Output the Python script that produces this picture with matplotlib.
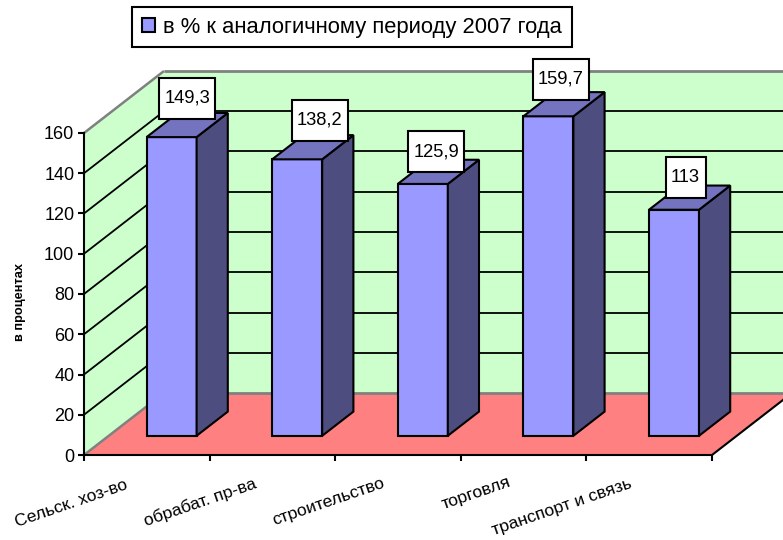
import matplotlib
matplotlib.use("Agg")
import matplotlib.pyplot as plt
from matplotlib.patches import Polygon, Rectangle, Patch

categories = ["Сельск. хоз-во", "обрабат. пр-ва", "строительство", "торговля", "транспорт и связь"]
values = [149.3, 138.2, 125.9, 159.7, 113]
value_labels = ["149,3", "138,2", "125,9", "159,7", "113"]
series_name = "в % к аналогичному периоду 2007 года"
y_ticks = [0, 20, 40, 60, 80, 100, 120, 140, 160]
y_label = "в процентах"

plt.rcParams["font.family"] = ["Liberation Sans", "DejaVu Sans"]
W, H = 783, 540
fig = plt.figure(figsize=(W / 100, H / 100), dpi=100)
L, R, T, B = 84, 712, 133, 455
ax = fig.add_axes([L / W, 1 - B / H, (R - L) / W, (B - T) / H])
ax.set_xlim(0, 5)
ax.set_ylim(0, 160)
ax.patch.set_visible(False)
PX = (R - L) / 5
PY = (B - T) / 160
WALL_DX, WALL_DY = 80 / PX, 62 / PY


def proj(cat, val, depth):
    return cat + depth * WALL_DX, val + depth * WALL_DY


WALL, FLOOR, GRID = "#CCFFCC", "#FF8080", "#808080"
FRONT, TOP, SIDE = "#9999FF", "#7373BF", "#4D4D80"
LW = 1.5


def poly(points, fc, ec="none", z=1, lw=LW):
    ax.add_patch(Polygon(points, closed=True, fc=fc, ec=ec, lw=lw, zorder=z,
                         clip_on=False, joinstyle="miter"))


ymax = y_ticks[-1]
poly([proj(0, 0, 0), proj(0, ymax, 0), proj(0, ymax, 1), proj(0, 0, 1)], WALL)
poly([proj(0, 0, 1), proj(0, ymax, 1), proj(5.2, ymax, 1), proj(5.2, 0, 1)], WALL)
poly([proj(0, 0, 0), proj(5, 0, 0), proj(5, 0, 1), proj(0, 0, 1)], FLOOR)


def line(p, q, color="black", lw=LW, z=2):
    ax.plot([p[0], q[0]], [p[1], q[1]], color=color, lw=lw, zorder=z, clip_on=False,
            solid_capstyle="butt")


for v in y_ticks[1:-1]:
    line(proj(0, v, 0), proj(0, v, 1), lw=1.3)
    line(proj(0, v, 1), proj(5.2, v, 1), lw=1.3)
line(proj(0, ymax, 0), proj(0, ymax, 1), GRID, 1.8)
line(proj(0, ymax, 1), proj(5.2, ymax, 1), GRID, 2.0)
line(proj(0, 0, 0), proj(0, 0, 1), GRID, 1.8)
line(proj(0, 0, 1), proj(5.2, 0, 1), GRID, 2.0)
line(proj(5, 0, 0), proj(5, 0, 1), "black", LW, 3)

# bars
BAR_W = 50 / PX
D0, D1 = 0.31, 0.70
BAR_SCALE = 0.994
for i, v in enumerate(values):
    c0 = i + 0.5 - BAR_W / 2
    c1 = i + 0.5 + BAR_W / 2
    h = v * BAR_SCALE
    poly([proj(c0, 0, D0), proj(c1, 0, D0), proj(c1, h, D0), proj(c0, h, D0)], FRONT, "black", 5)
    poly([proj(c1, 0, D0), proj(c1, 0, D1), proj(c1, h, D1), proj(c1, h, D0)], SIDE, "black", 5)
    poly([proj(c0, h, D0), proj(c1, h, D0), proj(c1, h, D1), proj(c0, h, D1)], TOP, "black", 5)

# value labels (offsets in pixels from the centre of the bar's top face)
lab_dx = [0, 7, -2, -3, -4]
lab_dy = [27, 27, 20, 25, 20]
lab_w = [56, 56, 56, 56, 40]
LAB_H = 41
for i, v in enumerate(values):
    cx, cy = proj(i + 0.5, v * BAR_SCALE, (D0 + D1) / 2)
    cx += lab_dx[i] / PX
    cy += lab_dy[i] / PY
    w, hh = lab_w[i] / PX, LAB_H / PY
    ax.add_patch(Rectangle((cx - w / 2, cy - hh / 2), w, hh, fc="white", ec="black", lw=LW,
                           zorder=8, clip_on=False))
    ax.text(cx, cy, value_labels[i], ha="center", va="center", fontsize=13.2, color="black",
            zorder=9, clip_on=False)

# axes
for s in ["top", "right"]:
    ax.spines[s].set_visible(False)
for s in ["left", "bottom"]:
    ax.spines[s].set_linewidth(LW)
    ax.spines[s].set_zorder(4)
ax.set_yticks(y_ticks)
ax.set_xticks(range(6))
ax.set_xticklabels([])
ax.tick_params(axis="y", length=4, width=LW, labelsize=13, pad=3)
ax.tick_params(axis="x", length=4, width=LW)

off_x = [-75, -72, -70, -47, -87]
off_y = [-49, -47, -47, -38, -52]
for i, name in enumerate(categories):
    ax.annotate(name, xy=(i + 0.5, 0), xytext=(off_x[i], off_y[i]), textcoords="offset pixels",
                ha="center", va="center", rotation=19, rotation_mode="anchor",
                fontsize=12.6, annotation_clip=False)

fig.text(20.5 / W, 1 - 302 / H, y_label, rotation=90, ha="center", va="center",
         fontsize=9.2, fontweight="bold")

leg = fig.legend(handles=[Patch(fc=FRONT, ec="black", lw=LW, label=series_name)],
                 loc="center", bbox_to_anchor=(352 / W, 1 - 27 / H), fontsize=15.8,
                 fancybox=False, framealpha=1, edgecolor="black",
                 handlelength=0.6, handleheight=0.6, handletextpad=0.36, borderpad=0.45,
                 borderaxespad=0)
leg.get_frame().set_linewidth(LW)

fig.savefig("out.png", dpi=100)
